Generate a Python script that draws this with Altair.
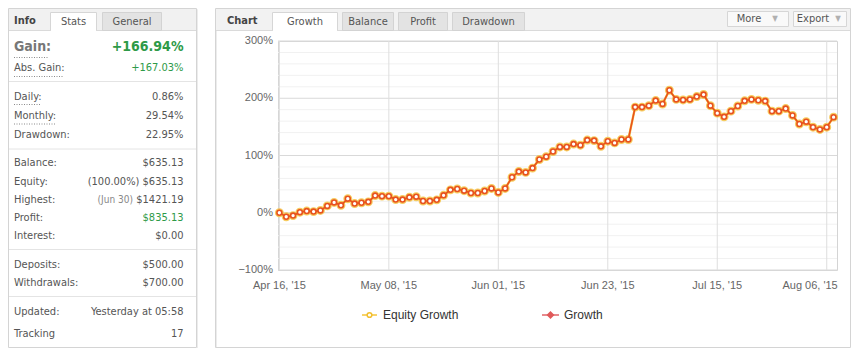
import altair as alt
import pandas as pd

# ---------------- data ----------------
GROWTH = [0, -7, -5, 1, 3, 2, 4, 12, 18, 13, 24.5, 16, 17.5, 19, 30, 29, 29, 23, 23, 27,
          28, 20.5, 20.5, 22.5, 30.5, 40, 41.5, 38.5, 34.5, 34.5, 38, 42.5, 35.5, 42.5, 62, 72,
          70.5, 78, 93, 98, 107, 115, 115, 120, 118, 127, 126, 116, 125, 122, 128, 128,
          184.5, 184.5, 187, 196, 190, 214, 198, 197, 198, 203, 206.5, 187, 174, 167.5,
          177.5, 186.5, 195.5, 198, 196.5, 195, 177.5, 177.5, 182, 170, 155, 159, 149.5,
          145.5, 149.5, 167]
EQUITY = list(GROWTH)
TICK_IDX = [0, 16, 32, 48, 64, 80]
TICK_LABELS = ["Apr 16, '15", "May 08, '15", "Jun 01, '15", "Jun 23, '15", "Jul 15, '15", "Aug 06, '15"]
Y_TICKS = [-100, 0, 100, 200, 300]
Y_MINOR = [-80, -60, -40, -20, 20, 40, 60, 80, 120, 140, 160, 180, 220, 240, 260, 280]
SERIES = ["Equity Growth", "Growth"]

INFO_TITLE = "Info"
INFO_TABS = ["Stats", "General"]
GAIN_LABEL = "Gain:"
GAIN_VALUE = "+166.94%"
INFO_LABELS = ["Abs. Gain:", "Daily:", "Monthly:", "Drawdown:", "Balance:", "Equity:", "Highest:",
               "Profit:", "Interest:", "Deposits:", "Withdrawals:", "Updated:", "Tracking"]
INFO_VALUES = ["+167.03%", "0.86%", "29.54%", "22.95%", "$635.13", "(100.00%) $635.13", "$1421.19",
               "$835.13", "$0.00", "$500.00", "$700.00", "Yesterday at 05:58", "17"]
HIGHEST_NOTE = "(Jun 30)"
CHART_TITLE = "Chart"
CHART_TABS = ["Growth", "Balance", "Profit", "Drawdown"]
BUTTONS = ["More", "Export"]

# ---------------- layout / style ----------------
PANEL_FONT = "DejaVu Sans Condensed, DejaVu Sans"
CHART_FONT = "Liberation Sans"
GREEN = "#2e9a48"
RED = "#e8521f"
YELLOW = "#f6c445"
PX0, PY0 = 278, 41
PLOT_W, PLOT_H = 559, 229
ROW_Y = [67.7, 96.5, 115.5, 134.5, 163, 181.5, 199.5, 217.5, 235.5, 264.5, 282.5, 311.5, 334]
ROW_COLOR = {"Abs. Gain:": GREEN, "Profit:": GREEN}
SEP_Y = [81, 148.5, 249, 296]
UNDERLINE = {"Gain:": (14, 49, 57.5), "Abs. Gain:": (14, 63, 76.5), "Daily:": (14, 41, 104.5), "Monthly:": (14, 55, 124)}
CHART_TAB_X = [(272.5, 337.5), (342.5, 393.5), (398.5, 447.5), (452.5, 524.5)]
INFO_TAB_X = [(50.5, 96.5), (102.5, 161.5)]
BUTTON_X = [(727.5, 788.5, 749, 775), (793.5, 846.5, 813, 838)]

ONE = pd.DataFrame({"k": [0]})


def vx(x):
    return alt.value(x - PX0)


def vy(y):
    return alt.value(y - PY0)


def box(x1, y1, x2, y2, fill="white", stroke=None, sw=1):
    props = dict(fill=fill, strokeWidth=sw)
    if stroke:
        props["stroke"] = stroke
    return alt.Chart(ONE).mark_rect(**props).encode(x=vx(x1), x2=vx(x2), y=vy(y1), y2=vy(y2))


def hline(x1, x2, y, color, sw=1, dash=None):
    props = dict(color=color, strokeWidth=sw)
    if dash:
        props["strokeDash"] = dash
    return alt.Chart(ONE).mark_rule(**props).encode(x=vx(x1), x2=vx(x2), y=vy(y))


def vline(x, y1, y2, color, sw=1):
    return alt.Chart(ONE).mark_rule(color=color, strokeWidth=sw).encode(x=vx(x), y=vy(y1), y2=vy(y2))


def frame(x1, y1, x2, y2, color, sw=1):
    return [hline(x1, x2, y1, color, sw), hline(x1, x2, y2, color, sw),
            vline(x1, y1, y2, color, sw), vline(x2, y1, y2, color, sw)]


def label(t, x, y, size=11, color="#555", bold=False, align="left", font=PANEL_FONT):
    return alt.Chart(pd.DataFrame({"t": [t]})).mark_text(
        align=align, baseline="middle", fontSize=size, color=color,
        fontWeight="bold" if bold else "normal", font=font
    ).encode(text="t:N", x=vx(x), y=vy(y))


# ---------------- plot scales ----------------
xscale = alt.Scale(domain=[-0.2, 81.5], nice=False, zero=False)
yscale = alt.Scale(domain=[-100, 300], nice=False, zero=False)
df = pd.DataFrame({"i": list(range(len(GROWTH))), "growth": GROWTH, "equity": EQUITY})
ticks_df = pd.DataFrame({"t": TICK_IDX, "lab": TICK_LABELS})
yt_df = pd.DataFrame({"v": Y_TICKS})

layers = []

# grid (through the plot scales)
layers.append(alt.Chart(pd.DataFrame({"v": Y_MINOR})).mark_rule(color="#f1f1f1", strokeWidth=1).encode(
    y=alt.Y("v:Q", scale=yscale, axis=None)))
layers.append(alt.Chart(yt_df).mark_rule(color="#d9d9d9", strokeWidth=1).encode(
    y=alt.Y("v:Q", scale=yscale, axis=None)))
layers.append(alt.Chart(ticks_df).mark_rule(color="#dedede", strokeWidth=1).encode(
    x=alt.X("t:Q", scale=xscale, axis=None)))

# y tick labels
layers.append(alt.Chart(yt_df).transform_calculate(lab="format(datum.v, 'd') + '%'").mark_text(
    align="right", baseline="middle", font=CHART_FONT, fontSize=11, color="#666").encode(
    y=alt.Y("v:Q", scale=yscale, axis=None), x=alt.value(-5), text="lab:N"))
# x tick labels (the last one is kept inside the plot, flush right)
layers.append(alt.Chart(ticks_df).transform_filter(f"datum.t < {TICK_IDX[-1]}").mark_text(
    align="center", baseline="middle", font=CHART_FONT, fontSize=11, color="#666").encode(
    x=alt.X("t:Q", scale=xscale, axis=None), y=alt.value(PLOT_H + 16), text="lab:N"))
layers.append(alt.Chart(ticks_df).transform_filter(f"datum.t == {TICK_IDX[-1]}").mark_text(
    align="right", baseline="middle", font=CHART_FONT, fontSize=11, color="#666", dx=11).encode(
    x=alt.X("t:Q", scale=xscale, axis=None), y=alt.value(PLOT_H + 16), text="lab:N"))

# ---- left info panel ----
layers += frame(9.5, 9.5, 197.5, 348.5, "#ececec")
layers += [box(8.5, 8.5, 196.5, 347.5, fill="white", stroke="#d4d4d4"),
           box(9, 9, 196, 30, fill="#f1f1f1"),
           hline(9, 196, 30.5, "#dadada")]
for i, (t, (x1, x2)) in enumerate(zip(INFO_TABS, INFO_TAB_X)):
    if i == 0:
        layers += [box(x1, 12.5, x2, 30.5, fill="white", stroke="#d6d6d6"), box(x1 + 0.5, 29, x2 - 0.5, 31.5, fill="white")]
    else:
        layers += [box(x1, 12.5, x2, 30.5, fill="#e3e3e3", stroke="#d3d3d3")]
    layers.append(label(t, (x1 + x2) / 2, 21.5, align="center"))
layers.append(label(INFO_TITLE, 14, 20.5, bold=True, color="#444"))

layers.append(label(GAIN_LABEL, 14, 47, size=14, color="#777", bold=True))
layers.append(label(GAIN_VALUE, 183.5, 47, size=14, color=GREEN, bold=True, align="right"))
for lab, val, y in zip(INFO_LABELS, INFO_VALUES, ROW_Y):
    layers.append(label(lab, 14, y, color="#555"))
    layers.append(label(val, 183.5, y, color=ROW_COLOR.get(lab, "#555"), align="right"))
layers.append(label(HIGHEST_NOTE, 133, ROW_Y[INFO_LABELS.index("Highest:")], size=10, color="#888", align="right"))
for key, (x1, x2, y) in UNDERLINE.items():
    layers.append(hline(x1, x2, y, "#8a8a8a", dash=[1, 1.5]))
for y in SEP_Y:
    layers.append(hline(9, 196, y + 0.5, "#e4e4e4"))

# ---- chart panel chrome (outline only) ----
layers += frame(216.5, 9.5, 851.5, 348.5, "#ececec")
layers += frame(215.5, 8.5, 850.5, 347.5, "#d4d4d4")
layers += [box(216, 9, 850, 30, fill="#f2f2f2"), hline(216, 850, 30.5, "#dadada")]
for i, (t, (x1, x2)) in enumerate(zip(CHART_TABS, CHART_TAB_X)):
    if i == 0:
        layers += [box(x1, 12.5, x2, 30.5, fill="white", stroke="#d6d6d6"), box(x1 + 0.5, 29, x2 - 0.5, 31.5, fill="white")]
    else:
        layers += [box(x1, 12.5, x2, 30.5, fill="#e3e3e3", stroke="#d3d3d3")]
    layers.append(label(t, (x1 + x2) / 2, 21.5, align="center"))
layers.append(label(CHART_TITLE, 227, 20.5, bold=True, color="#444"))
for t, (x1, x2, tx, ax) in zip(BUTTONS, BUTTON_X):
    layers.append(box(x1, 11.5, x2, 26.5, fill="#f9f9f9", stroke="#d6d6d6"))
    layers.append(label(t, tx, 19, align="center", color="#555"))
    layers.append(label("\u25bc", ax, 19, size=8, color="#b0b0b0", align="center"))

# ---- series ----
enc = dict(x=alt.X("i:Q", scale=xscale, axis=None))
layers += [
    alt.Chart(df).mark_line(color=YELLOW, strokeWidth=2.4).encode(y=alt.Y("equity:Q", scale=yscale, axis=None), **enc),
    alt.Chart(df).mark_point(filled=True, fill=YELLOW, stroke=YELLOW, size=48, opacity=0.85).encode(
        y=alt.Y("equity:Q", scale=yscale, axis=None), **enc),
    alt.Chart(df).mark_line(color=RED, strokeWidth=1.6).encode(y=alt.Y("growth:Q", scale=yscale, axis=None), **enc),
    alt.Chart(df).mark_point(filled=True, fill="white", stroke=RED, strokeWidth=1.6, size=24, opacity=1).encode(
        y=alt.Y("growth:Q", scale=yscale, axis=None), **enc),
]

# ---- legend ----
layers += [
    hline(362, 377, 315, "#f7d36a", sw=2),
    alt.Chart(ONE).mark_point(shape="circle", filled=True, fill="white", stroke="#f2bf30", strokeWidth=1.5, size=22, opacity=1).encode(x=vx(369.5), y=vy(315)),
    label(SERIES[0], 383, 315, size=12, color="#333", font=CHART_FONT),
    hline(542, 559, 315, "#e88a8d", sw=2),
    alt.Chart(ONE).mark_point(shape="diamond", filled=True, fill="#e05a5a", stroke="#e05a5a", size=26, opacity=1).encode(x=vx(550.5), y=vy(315)),
    label(SERIES[1], 564, 315, size=12, color="#333", font=CHART_FONT),
]

chart = alt.layer(*layers).properties(
    width=PLOT_W, height=PLOT_H,
    padding={"left": 270, "top": 33, "right": 14, "bottom": 78},
    autosize=alt.AutoSizeParams(type="none"),
    background="white",
).configure_view(stroke="#d4d4d4")

chart.save("out.html", embed_options={"renderer": "svg", "actions": False})
